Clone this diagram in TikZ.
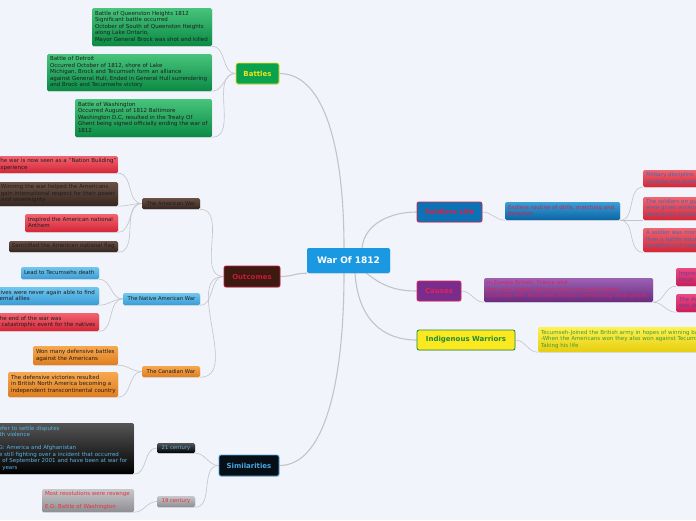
\documentclass[tikz,border=0pt]{standalone}
\usepackage{fontspec}
\setmainfont{DejaVu Sans}
\usetikzlibrary{shadows}
\definecolor{bgc}{HTML}{F1F4FB}
\definecolor{linec}{HTML}{C2C4C8}
\definecolor{rootc}{HTML}{1B98E2}
\definecolor{batf}{HTML}{0AA24C}
\definecolor{batb}{HTML}{F0E21E}
\definecolor{gTop}{HTML}{48C47C}
\definecolor{gBot}{HTML}{0A8A44}
\definecolor{outf}{HTML}{3C1A10}
\definecolor{outr}{HTML}{CC163C}
\definecolor{brTop}{HTML}{6A5045}
\definecolor{brBot}{HTML}{362620}
\definecolor{rdTop}{HTML}{F26470}
\definecolor{rdBot}{HTML}{D42638}
\definecolor{blTop}{HTML}{70C6EE}
\definecolor{blBot}{HTML}{3A9CD6}
\definecolor{orTop}{HTML}{F6A850}
\definecolor{orBot}{HTML}{E07E1E}
\definecolor{bkTop}{HTML}{555555}
\definecolor{bkBot}{HTML}{000000}
\definecolor{gyTop}{HTML}{C8C8CC}
\definecolor{gyBot}{HTML}{8E8E92}
\definecolor{simf}{HTML}{060E16}
\definecolor{simb}{HTML}{4AA8E0}
\definecolor{ltblue}{HTML}{5AB2E4}
\definecolor{redtx}{HTML}{E8303C}
\definecolor{slf}{HTML}{0A72B5}
\definecolor{slr}{HTML}{D8204A}
\definecolor{dbTop}{HTML}{3AA0D8}
\definecolor{dbBot}{HTML}{0A64A4}
\definecolor{blutx}{HTML}{3A6EB6}
\definecolor{caf}{HTML}{7A2C8C}
\definecolor{car}{HTML}{E0245A}
\definecolor{puTop}{HTML}{9C62B2}
\definecolor{puBot}{HTML}{6A2A80}
\definecolor{pkTop}{HTML}{EA4A80}
\definecolor{pkBot}{HTML}{C81E5A}
\definecolor{pktx}{HTML}{6A3C9C}
\definecolor{iwf}{HTML}{FCE81E}
\definecolor{iwg}{HTML}{1E8A3C}
\definecolor{yeTop}{HTML}{FFF250}
\definecolor{yeBot}{HTML}{E6CE10}
\definecolor{grtx}{HTML}{3C9A3A}
\definecolor{dk}{HTML}{1E1E1E}
\newcommand\tb[1]{\begin{tabular}{@{}l@{}}#1\end{tabular}}
\pgfdeclarelayer{back}
\pgfdeclarelayer{lines}
\pgfsetlayers{back,lines,main}
\begin{document}
\begin{tikzpicture}[x=1pt,y=-1pt,
  every node/.style={inner sep=0pt},
  conn/.style={draw=linec, line width=0.6pt},
  mconn/.style={draw=linec, line width=1.1pt},
  shad/.style={drop shadow={opacity=0.18,shadow xshift=0.4pt,shadow yshift=-0.9pt}},
  leaf/.style={shad, rounded corners=1.5pt, inner xsep=3pt, inner ysep=0pt,
    font=\fontsize{5.5}{6.5}\selectfont, align=left, text=dk},
  mid/.style={shad, rounded corners=1.5pt, font=\fontsize{5.3}{6}\selectfont, align=center, text=dk},
  topic/.style={shad, rounded corners=2pt, line width=0.8pt, font=\fontsize{7}{8}\selectfont\bfseries},
  green/.style={leaf, top color=gTop, bottom color=gBot},
  redb/.style={leaf, top color=rdTop, bottom color=rdBot},
  brownb/.style={leaf, top color=brTop, bottom color=brBot},
  blueb/.style={leaf, top color=blTop, bottom color=blBot},
  orangeb/.style={leaf, top color=orTop, bottom color=orBot},
]
\useasboundingbox (0,0) rectangle (696,520);
\begin{pgfonlayer}{back}
\fill[bgc] (0,0) rectangle (696,520);
\end{pgfonlayer}

% root
\node[shad, fill=rootc, rounded corners=2pt, minimum width=83pt, minimum height=25pt,
  text=white, font=\fontsize{9}{10}\selectfont\bfseries] (root) at (348.5,260.5) {War Of 1812};

% topics
\node[topic, fill=batf, draw=batb, text=batb, minimum width=43pt, minimum height=21pt] (bat) at (257.5,73.5) {Battles};
\node[topic, fill=outf, draw=outr, text=outr, minimum width=56pt, minimum height=21pt] (out) at (252,276.5) {Outcomes};
\node[topic, fill=simf, draw=simb, text=simb, minimum width=60pt, minimum height=21pt] (sim) at (249,465.5) {Similarities};
\node[topic, fill=slf, draw=slr, text=slr, minimum width=65pt, minimum height=20pt] (sl) at (449.5,212) {Soldiers Life};
\node[topic, fill=caf, draw=car, text=car, minimum width=44pt, minimum height=20pt] (ca) at (439,291) {Causes};
\node[topic, fill=iwf, draw=iwg, text=iwg, minimum width=98pt, minimum height=20pt] (iw) at (466,340) {Indigenous Warriors};

% battles
\node[green, text width=114pt, minimum height=38pt] (q) at (152,27) {\tb{Battle of Queenston Heights 1812\\Significant battle occurred\\October of South of Queenston Heights\\along Lake Ontario,\\Mayor General Brock was shot and killed}};
\node[green, text width=159pt, minimum height=37pt] (d) at (129.5,72.5) {\tb{Battle of Detroit\\Occurred October of 1812, shore of Lake\\Michigan, Brock and Tecumseh form an alliance\\against General Hull, Ended in General Hull surrendering\\and Brock and Tecumsehs victory}};
\node[green, text width=131pt, minimum height=38pt] (w) at (143.5,118) {\tb{Battle of Washington\\Occurred August of 1812 Baltimore\\Washington D.C, resulted in the Treaty Of\\Ghent being signed officially ending the war of\\1812}};

% outcomes
\node[mid, top color=brTop, bottom color=brBot, minimum width=58pt, minimum height=11pt] (aw) at (171,203.5) {The American War};
\node[redb, text width=118pt, minimum height=17pt] (aw1) at (56,164.5) {\tb{The war is now seen as a "Nation Building"\\experience}};
\node[brownb, text width=114pt, minimum height=24pt] (aw2) at (58,194) {\tb{Winning the war helped the Americans\\gain international respect for their power\\and sovereignty}};
\node[redb, text width=87pt, minimum height=18pt] (aw3) at (71.5,223) {\tb{Inspired the American national\\Anthem}};
\node[brownb, text width=103pt, minimum height=11pt] (aw4) at (63.5,246.5) {\tb{Sanctified the American national flag}};

\node[mid, top color=blTop, bottom color=blBot, minimum width=77pt, minimum height=12pt] (naw) at (161.5,299) {The Native American War};
\node[blueb, text width=72pt, minimum height=12pt] (n1) at (60,273) {\tb{Lead to Tecumsehs death}};
\node[blueb, text width=105pt, minimum height=18pt] (n2) at (43.5,296) {\tb{Natives were never again able to find\\external allies}};
\node[redb, text width=99.5pt, minimum height=18pt] (n3) at (46.25,322) {\tb{The end of the war was\\a catastrophic event for the natives}};

\node[mid, top color=orTop, bottom color=orBot, minimum width=58pt, minimum height=11pt] (cw) at (171,371.5) {The Canadian War};
\node[orangeb, text width=79pt, minimum height=19pt] (c1) at (75.5,355.5) {\tb{Won many defensive battles\\against the Americans}};
\node[orangeb, text width=104pt, minimum height=25pt] (c2) at (63,384.5) {\tb{The defensive victories resulted\\in British North America becoming a\\independent transcontinental country}};

% similarities
\node[mid, top color=bkTop, bottom color=bkBot, text=ltblue, minimum width=38pt, minimum height=10pt] (s21) at (176,448) {21 century};
\node[leaf, top color=bkTop, bottom color=bkBot, text=ltblue, text width=137.5pt, minimum height=51pt] (s21b) at (62.25,448.5) {\tb{Prefer to settle disputes\\with violence\\ \\E.G: America and Afghanistan\\are still fighting over a incident that occurred\\11 of September 2001 and have been at war for\\15 years}};
\node[mid, top color=gyTop, bottom color=gyBot, text=redtx, minimum width=38pt, minimum height=11pt] (s19) at (176,501.5) {19 century};
\node[leaf, top color=gyTop, bottom color=gyBot, text=redtx, text width=86pt, minimum height=23pt] (s19b) at (88,500.5) {\tb{Most resolutions were revenge\\ \\E.G: Battle of Washington}};

% soldiers life
\node[leaf, top color=dbTop, bottom color=dbBot, text=slr, text width=109pt, minimum height=18pt] (sl1) at (562.5,211) {\tb{Endless routine of drills, marching and\\boredom}};
\node[redb, text=blutx, text width=111pt, minimum height=17pt] (sl2) at (701.5,178.5) {\tb{Military discipline was harsh and any\\mistake was punished}};
\node[redb, text=blutx, text width=111pt, minimum height=23pt] (sl3) at (701.5,208.5) {\tb{The soldiers on guard duty\\were given wollen coats and\\were given greater rations}};
\node[redb, text=blutx, text width=111pt, minimum height=24pt] (sl4) at (701.5,240) {\tb{A soldier was more likely to die of disease\\than a battle wound because of the\\conditions of camp life}};

% causes
\node[leaf, top color=puTop, bottom color=puBot, text=car, text width=163pt, minimum height=24pt] (ca1) at (568.5,290) {\tb{In Europe Britain, France and\\the naval power were trying to ruin each others\\Economy with blockades and by Confiscating trade goods}};
\node[leaf, top color=pkTop, bottom color=pkBot, text=pktx, text width=78pt, minimum height=18pt] (ca2) at (718,277) {\tb{Impressment of sailors\\issue}};
\node[leaf, top color=pkTop, bottom color=pkBot, text=pktx, text width=78pt, minimum height=18pt] (ca3) at (718,303) {\tb{The American economy\\was affected}};

% indigenous
\node[leaf, top color=yeTop, bottom color=yeBot, text=grtx, text width=236pt, minimum height=25pt] (iw1) at (659,339.5) {\tb{Tecumseh-Joined the British army in hopes of winning back their land\\-When the Americans won they also won against Tecumseh\\Taking his life}};

\begin{pgfonlayer}{lines}
\draw[mconn] ([xshift=-4.5pt]root.north) .. controls +(0,-100) and +(45,0) .. (bat.east);
\draw[mconn] ([xshift=13.5pt]root.north) .. controls +(3,-25) and +(-25,0) .. (sl.west);
\draw[mconn] (root.south west) .. controls +(-12,0) and +(12,0) .. (out.east);
\draw[mconn] ([xshift=-4.5pt]root.south) .. controls +(0,110) and +(45,0) .. (sim.east);
\draw[mconn] ([xshift=6.5pt]root.south) .. controls +(3,45) and +(-35,0) .. (iw.west);
\draw[mconn] ([xshift=18pt]root.south) .. controls +(15,12) and +(-22,0) .. (ca.west);

\foreach \c in {q,d,w} \draw[conn] (\c.south east) to[out=0,in=180] (bat.west);
\foreach \c in {aw,naw,cw} \draw[conn] (\c.south east) to[out=0,in=180] (out.west);
\foreach \c in {aw1,aw2,aw3,aw4} \draw[conn] (\c.south east) to[out=0,in=180] (aw.west);
\foreach \c in {n1,n2,n3} \draw[conn] (\c.south east) to[out=0,in=180] (naw.west);
\foreach \c in {c1,c2} \draw[conn] (\c.south east) to[out=0,in=180] (cw.west);
\foreach \c in {s21,s19} \draw[conn] (\c.south east) to[out=0,in=180] (sim.west);
\draw[conn] (s21b.south east) to[out=0,in=180] (s21.west);
\draw[conn] (s19b.south east) to[out=0,in=180] (s19.west);

\draw[conn] (sl.east) to[out=0,in=180] (sl1.south west);
\foreach \c in {sl2,sl3,sl4} \draw[conn] (sl1.south east) to[out=0,in=180] (\c.south west);
\draw[conn] (ca.east) to[out=0,in=180] (ca1.south west);
\foreach \c in {ca2,ca3} \draw[conn] (ca1.south east) to[out=0,in=180] (\c.south west);
\draw[conn] (iw.east) to[out=0,in=180] (iw1.south west);
\end{pgfonlayer}
\end{tikzpicture}
\end{document}
